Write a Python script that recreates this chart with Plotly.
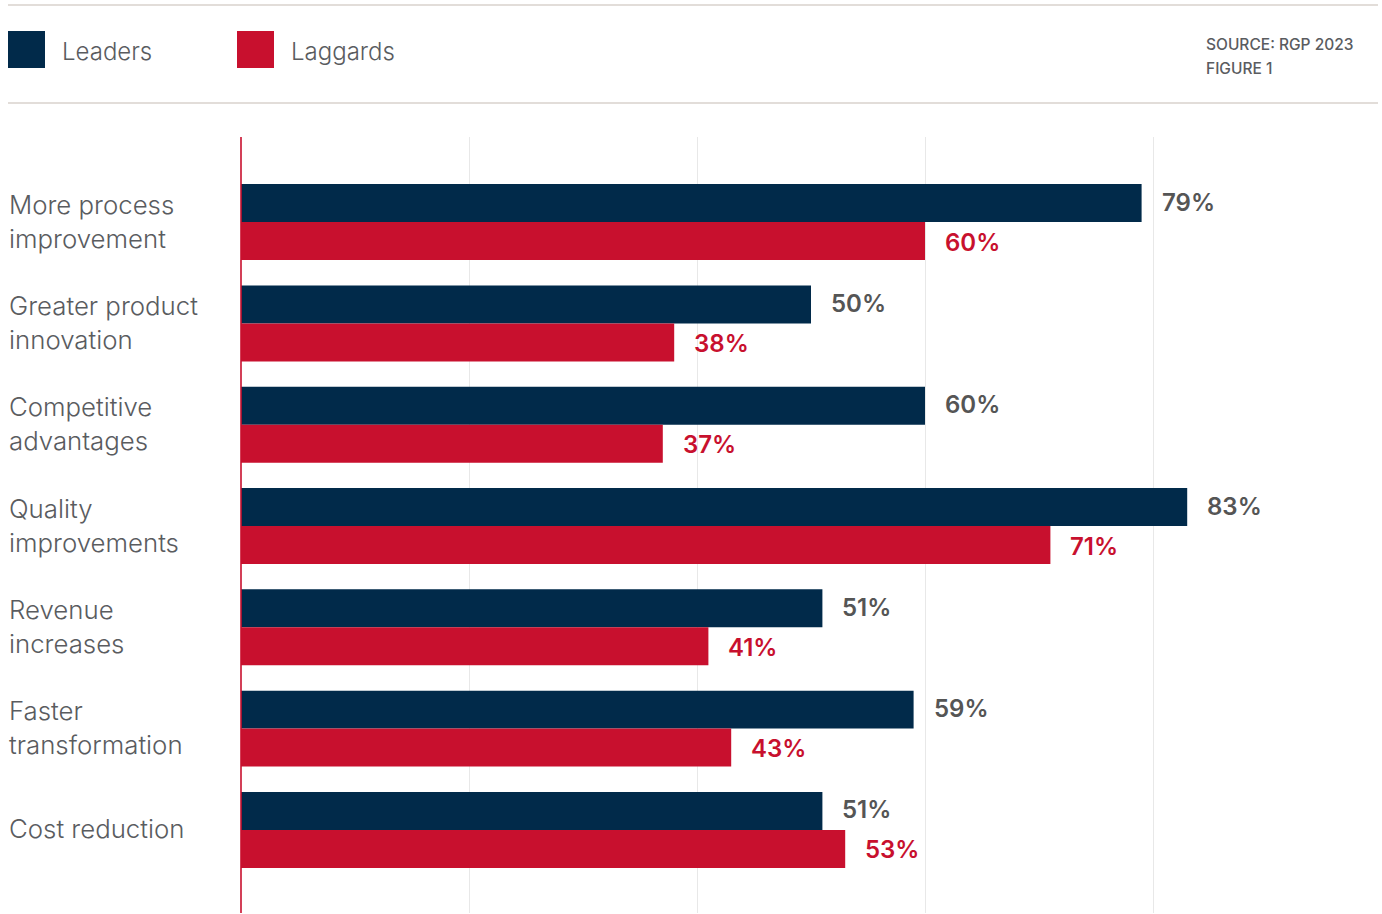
import plotly.graph_objects as go

categories = ["More process<br>improvement", "Greater product<br>innovation", "Competitive<br>advantages",
              "Quality<br>improvements", "Revenue<br>increases", "Faster<br>transformation", "Cost reduction"]
leaders = [79, 50, 60, 83, 51, 59, 51]
laggards = [60, 38, 37, 71, 41, 43, 53]
series_names = ["Leaders", "Laggards"]
x_ticks = [20, 40, 60, 80, 100]
source_lines = ["SOURCE: RGP 2023", "FIGURE 1"]

NAVY = "#012A4A"
RED = "#C8102E"
GREY = "#5A5C5F"
FONT = "Inter"

W, H = 1382, 914
L, R, T, B = 241, 1, 137, 1
PW, PH = W - L - R, H - T - B


def px(x):
    return (x - L) / PW


def py(y):
    return (H - B - y) / PH


ypos = list(range(len(categories)))

fig = go.Figure()
fig.add_trace(go.Bar(y=ypos, x=leaders, orientation="h", name=series_names[0],
                     marker=dict(color=NAVY, line=dict(width=0)), hoverinfo="x+name"))
fig.add_trace(go.Bar(y=ypos, x=laggards, orientation="h", name=series_names[1],
                     marker=dict(color=RED, line=dict(width=0)), hoverinfo="x+name"))

annotations = []
for i, cat in enumerate(categories):
    annotations.append(dict(x=px(7), xref="paper", y=i, yref="y", yshift=1, text=cat, showarrow=False,
                            xanchor="left", yanchor="middle", align="left",
                            font=dict(family=FONT, size=25.8, color=GREY, weight=300)))
    annotations.append(dict(x=leaders[i], xref="x", y=i - 0.1875, yref="y", text=f"{leaders[i]}%",
                            showarrow=False, xanchor="left", yanchor="middle", xshift=18, yshift=1,
                            font=dict(family=FONT, size=24, color="#555555", weight=600)))
    annotations.append(dict(x=laggards[i], xref="x", y=i + 0.1875, yref="y", text=f"{laggards[i]}%",
                            showarrow=False, xanchor="left", yanchor="middle", xshift=18, yshift=-1,
                            font=dict(family=FONT, size=24, color=RED, weight=600)))

# legend
legend_items = [(series_names[0], NAVY, 8), (series_names[1], RED, 237)]
shapes = []
for name, col, x0 in legend_items:
    shapes.append(dict(type="rect", xref="paper", yref="paper", x0=px(x0), x1=px(x0 + 37),
                       y0=py(68), y1=py(31), fillcolor=col, line=dict(width=0)))
    annotations.append(dict(x=px(x0 + 52), xref="paper", y=py(51.5), yref="paper", text=name,
                            showarrow=False, xanchor="left", yanchor="middle",
                            font=dict(family=FONT, size=24, color=GREY, weight=300)))

for k, line in enumerate(source_lines):
    annotations.append(dict(x=px(1204), xref="paper", y=py(44.5 + 24 * k), yref="paper", text=line,
                            showarrow=False, xanchor="left", yanchor="middle",
                            font=dict(family=FONT, size=15.5, color=GREY, weight=500)))

for yy in (5, 103):
    shapes.append(dict(type="line", xref="paper", yref="paper", x0=px(8), x1=px(1378),
                       y0=py(yy), y1=py(yy), line=dict(color="#E2DDD9", width=2)))

# red baseline at zero
shapes.append(dict(type="line", xref="paper", yref="paper", x0=px(241), x1=px(241), y0=0, y1=1,
                   line=dict(color="rgb(200,16,46)", width=1.6), layer="above"))

fig.update_layout(
    width=W, height=H,
    margin=dict(l=L, r=R, t=T, b=B, pad=0),
    paper_bgcolor="white", plot_bgcolor="white",
    barmode="group", bargap=0.25, bargroupgap=0,
    showlegend=False,
    xaxis=dict(range=[0, 100], tickvals=x_ticks, showticklabels=False, showgrid=True,
               gridcolor="#E8E8E8", gridwidth=1, zeroline=False, showline=False, fixedrange=True),
    yaxis=dict(range=[6.82, -0.84], showticklabels=False, showgrid=False, zeroline=False,
               showline=False, fixedrange=True),
    annotations=annotations, shapes=shapes,
)

fig.write_html("out.html", config={"displayModeBar": False},
               post_script="document.body.style.margin='0';document.body.style.padding='0';")
